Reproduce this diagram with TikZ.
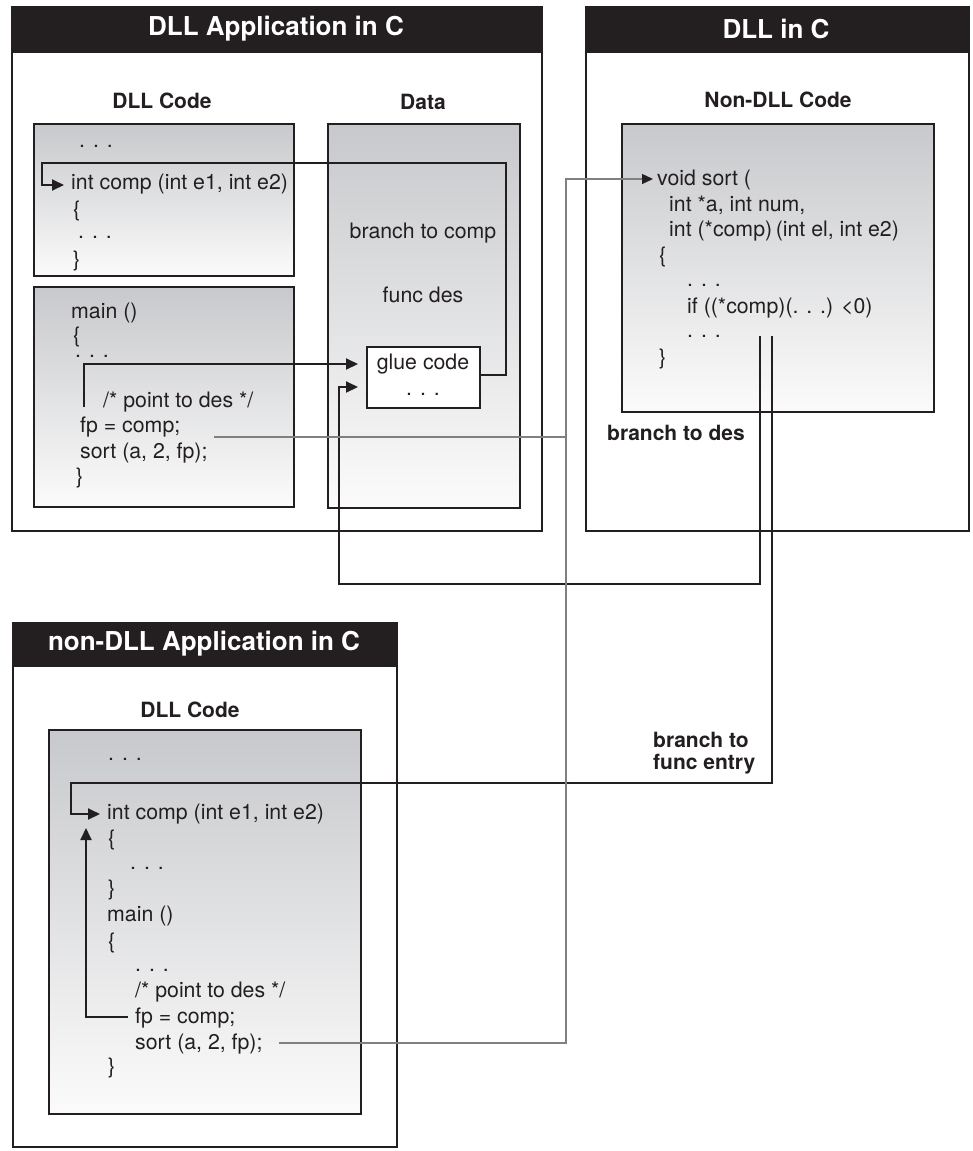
\documentclass[tikz,border=0pt]{standalone}
\usepackage{fontspec}
\setmainfont{TeX Gyre Heros}
\usetikzlibrary{arrows.meta}
\definecolor{ink}{HTML}{231F20}
\definecolor{shtop}{HTML}{C8C9CC}
\definecolor{shbot}{HTML}{FBFBFB}
\definecolor{grayline}{HTML}{808080}
\begin{document}
\begin{tikzpicture}[x=1pt,y=-1pt,
  hdr/.style={fill=ink,draw=ink,line width=2pt,anchor=north west,inner sep=0pt},
  frame/.style={draw=ink,line width=2.2pt,fill=white,anchor=north west,inner sep=0pt},
  codebox/.style={draw=ink,line width=2.2pt,top color=shtop,bottom color=shbot,anchor=north west,inner sep=0pt},
  gluebox/.style={draw=ink,line width=2.2pt,fill=white,anchor=north west,inner sep=0pt},
  code/.style={anchor=base west,inner sep=0pt,font=\fontsize{21.3}{26}\selectfont,text=ink},
  ctext/.style={inner sep=0pt,font=\fontsize{21.3}{26}\selectfont,text=ink},
  lbl/.style={inner sep=0pt,font=\fontsize{21}{23}\selectfont\bfseries,text=ink},
  lblb/.style={anchor=base west,inner sep=0pt,font=\fontsize{21}{23}\selectfont\bfseries,text=ink},
  htext/.style={inner sep=0pt,font=\fontsize{26}{30}\selectfont\bfseries,text=white},
  conn/.style={draw=ink,line width=2pt},
  gconn/.style={draw=grayline,line width=1.3pt},
  tip/.style={-{Triangle[length=12pt,width=11pt]}},
  gtip/.style={-{Triangle[length=11pt,width=10pt,color=ink]}}
]
\useasboundingbox (0,0) rectangle (973,1151);
\fill[white] (0,0) rectangle (973,1151);

% ---------- Box A: DLL Application in C ----------
\node[frame,minimum width=530,minimum height=479] (boxA) at (11,51) {};
\node[hdr,minimum width=530,minimum height=45] (hdrA) at (11,6) {};
\node[htext] (hA) at (276,29) {DLL Application in C};
\node[lbl] (lDLLa) at (162,101) {DLL Code};
\node[lbl] (lData) at (423,102) {Data};
\node[codebox,minimum width=260,minimum height=152] (cb1) at (33,123) {};
\node[codebox,minimum width=260,minimum height=220] (cb2) at (33,286) {};
\node[codebox,minimum width=192,minimum height=384] (data) at (327,123) {};
\node[gluebox,minimum width=113,minimum height=61] (glue) at (366,346) {};

% ---------- Box B: DLL in C ----------
\node[frame,minimum width=383,minimum height=479] (boxB) at (585,51) {};
\node[hdr,minimum width=383,minimum height=45] (hdrB) at (585,6) {};
\node[htext] (hB) at (776,29) {DLL in C};
\node[lbl] (lNon) at (778,100) {Non-DLL Code};
\node[codebox,minimum width=312,minimum height=288] (cbC) at (621,123) {};

% ---------- Box D: non-DLL Application in C ----------
\node[frame,minimum width=384,minimum height=481] (boxD) at (12,665) {};
\node[hdr,minimum width=384,minimum height=43] (hdrD) at (12,622) {};
\node[htext] (hD) at (204,644) {non-DLL Application in C};
\node[lbl] (lDLLd) at (190,710) {DLL Code};
\node[codebox,minimum width=312,minimum height=384] (cbE) at (48,729) {};

% ---------- connector points ----------
\coordinate (a1s) at (479,375);
\coordinate (a1b) at (506,375);
\coordinate (a1c) at (506,163);
\coordinate (a1d) at (42,163);
\coordinate (a1e) at (42,185);
\coordinate (a1t) at (64,185);

\coordinate (a2s) at (84,407);
\coordinate (a2b) at (84,364);
\coordinate (a2t) at (358,364);

\coordinate (a3s) at (760,336);
\coordinate (a3b) at (760,584);
\coordinate (a3c) at (339,584);
\coordinate (a3d) at (339,387);
\coordinate (a3t) at (358,387);

\coordinate (a4s) at (772,336);
\coordinate (a4b) at (772,783);
\coordinate (a4c) at (71,783);
\coordinate (a4d) at (71,814);
\coordinate (a4t) at (100,814);

\coordinate (a5s) at (128,1017);
\coordinate (a5b) at (86,1017);
\coordinate (a5t) at (86,828);

\coordinate (g1s) at (214,437);
\coordinate (g1e) at (566,437);
\coordinate (g2s) at (279,1043);
\coordinate (g2b) at (566,1043);
\coordinate (g2c) at (566,179);
\coordinate (g2t) at (653,179);

% ---------- connectors ----------
\draw[conn,tip] (a1s) -- (a1b) -- (a1c) -- (a1d) -- (a1e) -- (a1t);
\draw[conn,tip] (a2s) -- (a2b) -- (a2t);
\draw[conn,tip] (a3s) -- (a3b) -- (a3c) -- (a3d) -- (a3t);
\draw[conn,tip] (a4s) -- (a4b) -- (a4c) -- (a4d) -- (a4t);
\draw[conn,tip] (a5s) -- (a5b) -- (a5t);
\draw[gconn] (g1s) -- (g1e);
\draw[gconn,gtip] (g2s) -- (g2b) -- (g2c) -- (g2t);

% ---------- texts: box A ----------
\node[code] (t1) at (79,147) {. . .};
\node[code] (comp1) at (71,189) {int comp (int e1, int e2)};
\node[code] (t2) at (73,216) {\{};
\node[code] (t3) at (78,238) {. . .};
\node[code] (t4) at (73,266) {\}};
\node[code] (main1) at (71,318) {main ()};
\node[code] (t5) at (73,342) {\{};
\node[code] (t6) at (75,357) {. . .};
\node[code] (pt1) at (103,407) {/* point to des */};
\node[code] (fp1) at (80,432) {fp = comp;};
\node[code] (sort1) at (80,458) {sort (a, 2, fp);};
\node[code] (t7) at (76,483) {\}};
\node[ctext] (bcomp) at (423,233) {branch to comp};
\node[ctext] (fdes) at (423,295) {func des};
\node[ctext] (gtxt) at (423,364) {glue code};
\node[ctext,anchor=base] (gdots) at (423,395) {. . .};

% ---------- texts: box B ----------
\node[code] (vs) at (657,185) {void sort (};
\node[code] (ia) at (669,211) {int *a, int num,};
\node[code] (ic) at (669,236) {int (*comp)\,(int el, int e2)};
\node[code] (t8) at (659,262) {\{};
\node[code] (t9) at (687,286) {. . .};
\node[code] (ifl) at (687,313) {if ((*comp)(. . .) <0)};
\node[code] (t10) at (687,337) {. . .};
\node[code] (t11) at (659,364) {\}};
\node[lblb] (bdes) at (607,440) {branch to des};

% ---------- texts: box D ----------
\node[code] (t12) at (108,760) {. . .};
\node[code] (comp2) at (107,819) {int comp (int e1, int e2)};
\node[code] (t13) at (108,845) {\{};
\node[code] (t14) at (130,869) {. . .};
\node[code] (t15) at (108,895) {\}};
\node[code] (main2) at (107,921) {main ()};
\node[code] (t16) at (108,948) {\{};
\node[code] (t17) at (135,971) {. . .};
\node[code] (pt2) at (135,997) {/* point to des */};
\node[code] (fp2) at (135,1023) {fp = comp;};
\node[code] (sort2) at (135,1049) {sort (a, 2, fp);};
\node[code] (t18) at (108,1073) {\}};
\node[lblb] (bfe1) at (653,747) {branch to};
\node[lblb] (bfe2) at (653,769) {func entry};
\end{tikzpicture}
\end{document}
